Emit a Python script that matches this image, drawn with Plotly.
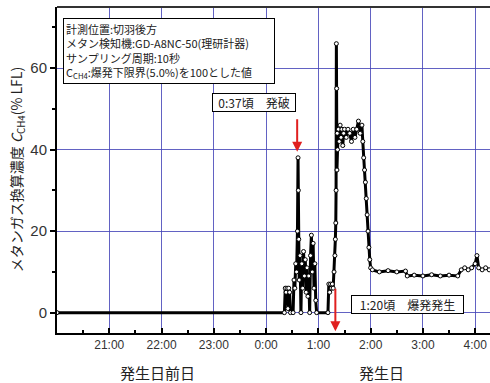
import plotly.graph_objects as go
import pandas as pd

# ---- data ----
clock_times = [
    "20:00", "00:21", "00:22", "00:23", "00:24", "00:25", "00:26", "00:27", "00:28",
    "00:31", "00:32", "00:33", "00:34", "00:35", "00:36", "00:36:40", "00:37", "00:37:30",
    "00:38", "00:39", "00:40", "00:41", "00:42", "00:43", "00:44", "00:45", "00:46",
    "00:47", "00:48", "00:49", "00:50", "00:51", "00:52", "00:53", "00:54", "00:55",
    "00:56", "00:57", "00:58", "01:11", "01:12", "01:13", "01:14", "01:15", "01:16",
    "01:17", "01:18", "01:19", "01:19:30", "01:20", "01:20:20", "01:20:40", "01:21",
    "01:21:20", "01:21:40", "01:22", "01:23", "01:24", "01:25", "01:26", "01:27", "01:28",
    "01:29", "01:30", "01:32", "01:34", "01:36", "01:38", "01:40", "01:42", "01:44",
    "01:46", "01:48", "01:50", "01:51", "01:52", "01:53", "01:54", "01:55", "01:56",
    "01:57", "01:58", "01:59", "02:00", "02:02", "02:10", "02:20", "02:30", "02:40",
    "02:42", "02:50", "03:00", "03:10", "03:20", "03:30", "03:40", "03:44", "03:48",
    "03:52", "03:56", "04:00", "04:02", "04:04", "04:08", "04:12", "04:16", "04:20",
]
ch4_lfl = [
    0, 0, 6, 5, 6, 1, 6, 5, 0,
    0, 8, 6, 12, 10, 20, 38, 30, 18,
    8, 14, 0, 12, 6, 15, 9, 13, 5,
    11, 4, 9, 0, 14, 19, 10, 17, 6,
    12, 3, 0, 0, 7, 5, 7, 6, 7,
    6, 10, 14, 18, 22, 30, 66, 55,
    35, 44, 40, 45, 42, 46, 43, 45, 41,
    44, 45, 43, 45, 44, 42, 45, 43, 45,
    47, 44, 46, 42, 38, 35, 32, 28, 24,
    20, 16, 13, 11, 10.5, 10, 10.3, 10, 10.2,
    9, 9.2, 9, 9.3, 9, 9.2, 9, 10.5, 11,
    10.5, 11, 12, 14, 11, 10.5, 11, 10.5, 11,
]
x_tick_times = ["21:00", "22:00", "23:00", "00:00", "01:00", "02:00", "03:00", "04:00"]
x_tick_labels = ["21:00", "22:00", "23:00", "0:00", "1:00", "2:00", "3:00", "4:00"]
y_ticks = [0, 20, 40, 60]

# clock strings -> datetimes (times before noon belong to the next day)
def to_dt(s):
    parts = [int(p) for p in s.split(":")]
    h, m = parts[0], parts[1]
    sec = parts[2] if len(parts) > 2 else 0
    day = "2000-01-02" if h < 12 else "2000-01-01"
    return pd.Timestamp(f"{day} {h:02d}:{m:02d}:{sec:02d}")

x_dt = [to_dt(t) for t in clock_times]
x_tick_dt = [to_dt(t) for t in x_tick_times]

FONT = "Noto Sans CJK JP, Arial, sans-serif"
GRID = "rgba(70,70,185,0.85)"

fig = go.Figure()
fig.add_trace(go.Scatter(
    x=x_dt, y=ch4_lfl, mode="lines+markers",
    line=dict(color="black", width=3),
    marker=dict(symbol="circle", size=4, color="white",
                line=dict(color="black", width=1)),
    showlegend=False, cliponaxis=True, hoverinfo="skip",
))

fig.update_layout(
    width=490, height=383,
    margin=dict(l=57, r=0, t=7, b=50),
    paper_bgcolor="white", plot_bgcolor="white",
    font=dict(family=FONT, color="#222"),
    xaxis=dict(
        type="date", automargin=False,
        range=["2000-01-01 20:00", "2000-01-02 04:17"],
        tickvals=x_tick_dt, ticktext=x_tick_labels,
        ticks="inside", ticklen=5, tickwidth=1.5, tickcolor="black",
        showgrid=True, gridcolor=GRID, gridwidth=1,
        showline=True, linecolor="black", linewidth=2,
        tickfont=dict(size=12, family="Arial, sans-serif", color="#333"),
        minor=dict(dtick=1800000, tick0="2000-01-01 20:00", ticks="inside",
                   ticklen=3, tickcolor="black", showgrid=False),
        zeroline=False,
    ),
    yaxis=dict(
        range=[-5, 75], automargin=False,
        tickvals=y_ticks,
        ticks="outside", ticklen=5, tickwidth=1.5, tickcolor="black",
        showgrid=True, gridcolor=GRID, gridwidth=1,
        showline=True, linecolor="black", linewidth=2,
        tickfont=dict(size=15, family="Arial, sans-serif", color="#333"),
        minor=dict(dtick=10, ticks="outside", ticklen=3, tickcolor="black", showgrid=False),
        zeroline=False,
    ),
)

# top border
fig.add_shape(type="line", xref="paper", yref="paper", x0=0, x1=1, y0=1, y1=1,
              line=dict(color="#333", width=2))

# y-axis title
fig.add_annotation(
    xref="paper", yref="paper", x=-0.092, y=0.5, xanchor="center", yanchor="middle",
    text="メタンガス換算濃度 <i>C</i><sub>CH4</sub>(% LFL)",
    textangle=-90, showarrow=False,
    font=dict(size=14, family=FONT, color="#222"),
)

# x-axis group labels
fig.add_annotation(xref="x", yref="paper", x="2000-01-01 21:55", y=-0.12,
                   text="発生日前日", showarrow=False, xanchor="center", yanchor="middle",
                   font=dict(size=15, family=FONT, color="#222"))
fig.add_annotation(xref="x", yref="paper", x="2000-01-02 02:12", y=-0.12,
                   text="発生日", showarrow=False, xanchor="center", yanchor="middle",
                   font=dict(size=15, family=FONT, color="#222"))

# info box
fig.add_annotation(
    xref="paper", yref="paper", x=0.014, y=0.966, xanchor="left", yanchor="top",
    align="left", showarrow=False, width=206,
    text=("計測位置:切羽後方<br>メタン検知機:GD-A8NC-50(理研計器)<br>"
          "サンプリング周期:10秒<br>C<sub>CH4</sub>:爆発下限界(5.0%)を100とした値"),
    font=dict(size=11, family=FONT, color="#222"),
    bordercolor="black", borderwidth=1, borderpad=2, bgcolor="white",
)

# event labels
fig.add_annotation(xref="x", yref="y", x="2000-01-01 23:46:30", y=51.5,
                   xanchor="center", yanchor="middle",
                   text="0:37頃　発破", showarrow=False, width=82,
                   font=dict(size=12, family=FONT, color="#222"),
                   bordercolor="black", borderwidth=1, borderpad=0, bgcolor="white")
fig.add_annotation(xref="x", yref="y", x="2000-01-02 02:42:40", y=2,
                   xanchor="center", yanchor="middle",
                   text="1:20頃　爆発発生", showarrow=False, width=111,
                   font=dict(size=12, family=FONT, color="#222"),
                   bordercolor="black", borderwidth=1, borderpad=0, bgcolor="white")

# red arrows
fig.add_annotation(xref="x", yref="y", x="2000-01-02 00:35:40", y=39.5,
                   ax=0, ay=-34, text="", showarrow=True,
                   arrowcolor="#e02020", arrowwidth=2, arrowhead=2, arrowsize=1)
fig.add_annotation(xref="x", yref="y", x="2000-01-02 01:19:30", y=-4.6,
                   ax=0, ay=-44, text="", showarrow=True,
                   arrowcolor="#e02020", arrowwidth=2, arrowhead=2, arrowsize=1)

fig.write_html("out.html", config={"displayModeBar": False},
               post_script="document.body.style.margin='0';")
